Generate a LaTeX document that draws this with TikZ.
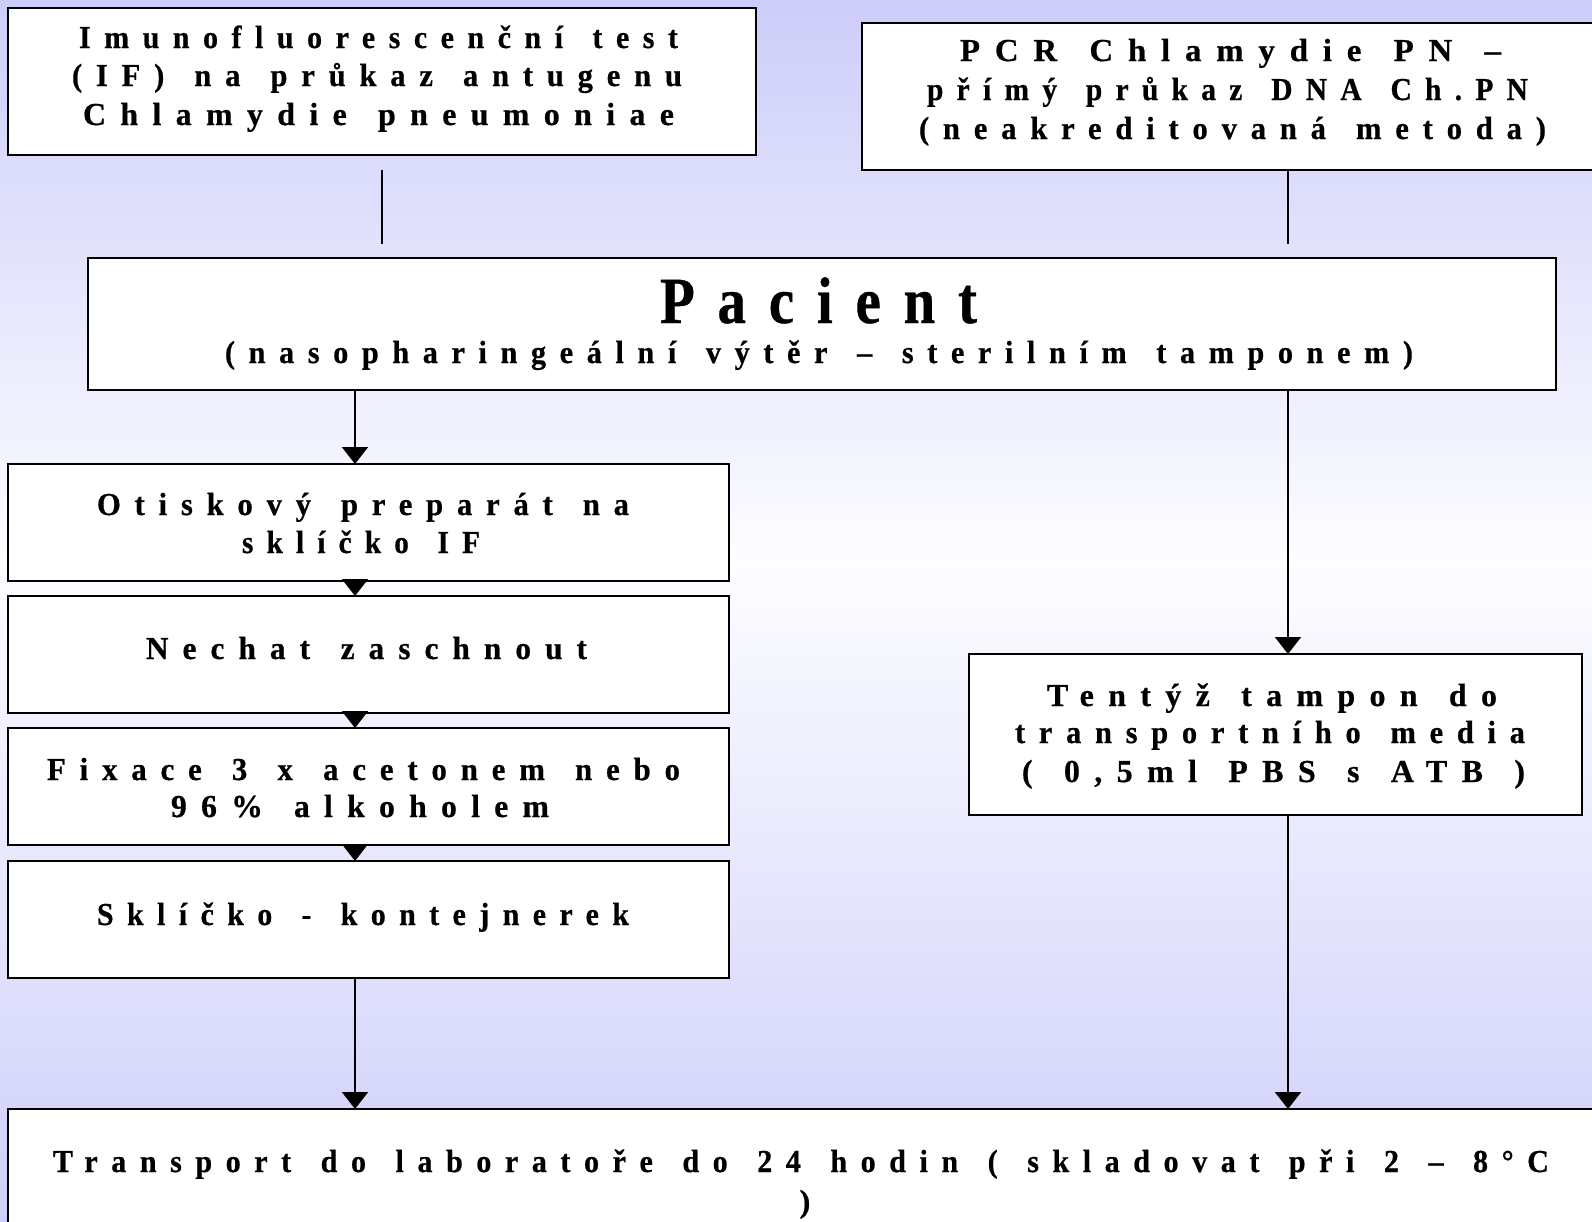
\documentclass[tikz,border=0pt]{standalone}
\usepackage{fontspec}
\setmainfont{Liberation Serif}[LetterSpace=45, WordSpace=1.4, BoldFeatures={FakeBold=0.6}]
\newfontfamily\bigfont{Liberation Serif}[LetterSpace=40, BoldFeatures={FakeBold=0.6}]
\usetikzlibrary{arrows.meta,fit}
\definecolor{bgtop}{RGB}{205,205,250}
\definecolor{bgmid}{RGB}{253,253,255}
\definecolor{bgbot}{RGB}{206,206,250}
\newcommand{\wl}[2]{\resizebox{#1}{\height}{#2}}
\begin{document}
\begin{tikzpicture}[x=0.5pt,y=-0.5pt,
  box/.style={draw=black, line width=1pt, fill=white, inner sep=0pt, outer sep=0pt, fit={#1}},
  txt/.style={anchor=base, inner sep=0pt, font=\fontsize{16}{19}\selectfont\bfseries},
  big/.style={anchor=base, inner sep=0pt, font=\fontsize{33}{38}\selectfont\bigfont\bfseries},
  conn/.style={line width=1pt, draw=black},
  arr/.style={conn, -{Triangle[width=13pt,length=8.5pt]}}]
\useasboundingbox (0,0) rectangle (1592,1222);
\clip (0,0) rectangle (1592,1222);
% background
\shade[top color=bgtop, bottom color=bgmid] (0,0) rectangle (1592,561);
\shade[top color=bgmid, bottom color=bgbot] (0,560) rectangle (1592,1222);
% boxes
\node[box={(8,8) (756,155)}] (b1) {};
\node[box={(862,23) (1612,170)}] (b2) {};
\node[box={(88,258) (1556,390)}] (pac) {};
\node[box={(8,464) (729,581)}] (A) {};
\node[box={(8,596) (729,713)}] (B) {};
\node[box={(8,728) (729,845)}] (C) {};
\node[box={(8,861) (729,978)}] (D) {};
\node[box={(969,654) (1582,815)}] (T) {};
\node[box={(8,1109) (1612,1240)}] (bot) {};
% guide coordinates
\coordinate (xt) at (382,0);
\coordinate (xl) at (355,0);
\coordinate (xr) at (1288,0);
% connectors
\draw[conn, shorten <=7.5pt, shorten >=7pt] (b1.south -| xt) -- (pac.north -| xt);
\draw[conn, shorten >=7pt] (b2.south -| xr) -- (pac.north -| xr);
\draw[arr] (pac.south -| xl) -- (A.north -| xl);
\draw[arr] (A.south -| xl) -- (B.north -| xl);
\draw[arr] (B.south -| xl) -- (C.north -| xl);
\draw[arr] (C.south -| xl) -- (D.north -| xl);
\draw[arr] (D.south -| xl) -- (bot.north -| xl);
\draw[arr] (pac.south -| xr) -- (T.north -| xr);
\draw[arr] (T.south -| xr) -- (bot.north -| xr);
% texts
\node[txt] (b1a) at (378.5,48) {\wl{299.5pt}{Imunofluorescenční test}};
\node[txt] (b1b) at (377,86) {\wl{305pt}{(IF) na průkaz antugenu}};
\node[txt] (b1c) at (378.5,125) {\wl{295.5pt}{Chlamydie pneumoniae}};
\node[txt] (b2a) at (1230.5,61) {\wl{270.5pt}{PCR Chlamydie PN –}};
\node[txt] (b2b) at (1227.5,100) {\wl{300.5pt}{přímý průkaz DNA Ch.PN}};
\node[txt] (b2c) at (1232.5,139) {\wl{313.5pt}{(neakreditovaná metoda)}};
\node[big] (pa) at (818.5,323) {\wl{158.5pt}{Pacient}};
\node[txt] (pb) at (819,363) {\wl{594pt}{(nasopharingeální výtěr – sterilním tamponem)}};
\node[txt] (Aa) at (363,515) {\wl{266pt}{Otiskový preparát na}};
\node[txt] (Ab) at (361,553) {\wl{119pt}{sklíčko IF}};
\node[txt] (Ba) at (366.5,659) {\wl{220.5pt}{Nechat zaschnout}};
\node[txt] (Ca) at (363.5,780) {\wl{316.5pt}{Fixace 3 x acetonem nebo}};
\node[txt] (Cb) at (360,817) {\wl{189pt}{96\% alkoholem}};
\node[txt] (Da) at (363,925) {\wl{266pt}{Sklíčko - kontejnerek}};
\node[txt] (Ta) at (1272,706) {\wl{225pt}{Tentýž tampon do}};
\node[txt] (Tb) at (1270,743) {\wl{255pt}{transportního media}};
\node[txt] (Tc) at (1273.5,782) {\wl{251.5pt}{( 0,5ml PBS s ATB )}};
\node[txt] (bota) at (801,1172) {\wl{748pt}{Transport do laboratoře do 24 hodin ( skladovat při 2 – 8°C}};
\node[txt] (botb) at (805,1212) {)};
\end{tikzpicture}
\end{document}
